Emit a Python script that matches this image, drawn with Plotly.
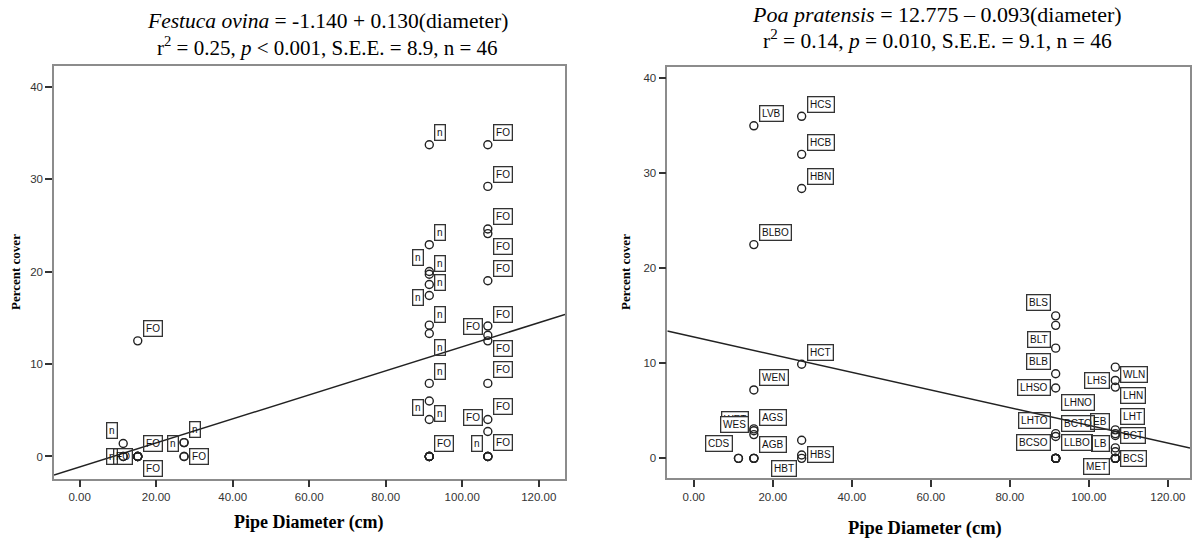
import plotly.graph_objects as go

W, H = 1193, 544

# ---------------- Data: Festuca ovina (left panel) ----------------
fo_x = [11.4, 11.4, 15.2, 15.2, 15.2, 15.2, 27.3, 27.3, 27.3,
        91.4, 91.4, 91.4, 91.4, 91.4, 91.4, 91.4, 91.4, 91.4, 91.4, 91.4, 91.4,
        106.7, 106.7, 106.7, 106.7, 106.7, 106.7, 106.7, 106.7, 106.7, 106.7, 106.7, 106.7, 106.7,
        91.4, 91.4, 91.4, 91.4, 91.4, 106.7, 106.7, 15.2, 15.2, 15.2, 11.4, 27.3]
fo_y = [1.4, 0, 12.5, 0, 0, 0, 1.5, 1.5, 0,
        33.7, 22.9, 20.0, 19.7, 18.6, 17.4, 14.2, 13.3, 7.9, 6.0, 4.0, 0,
        33.7, 29.2, 24.6, 24.1, 19.0, 14.1, 13.1, 12.5, 7.9, 4.0, 2.7, 0, 0,
        0, 0, 0, 0, 0, 0, 0, 0, 0, 0, 0, 0]
fo_lab = ["n", "n", "FO", "FO", "FO", "FO", "n", "n", "FO",
          "n", "n", "n", "n", "n", "n", "n", "n", "n", "n", "n", "FO",
          "FO", "FO", "FO", "FO", "FO", "FO", "FO", "FO", "FO", "FO", "FO", "n", "FO",
          "", "", "", "", "", "", "", "", "", "", "", ""]
fo_intercept, fo_slope = -1.140, 0.130

# ---------------- Data: Poa pratensis (right panel) ----------------
pp_x = [11.3, 15.2, 15.2, 15.2, 15.2, 15.2, 15.2, 15.2,
        27.3, 27.3, 27.3, 27.3, 27.3, 27.3,
        91.6, 91.6, 91.6, 91.6, 91.6, 91.6, 91.6, 91.6, 91.6,
        106.7, 106.7, 106.7, 106.7, 106.7, 106.7, 106.7, 106.7, 106.7,
        91.6, 91.6, 91.6, 91.6, 91.6, 91.6, 106.7, 106.7, 106.7, 106.7, 15.2, 15.2, 11.3, 27.3]
pp_y = [0, 35.0, 22.5, 7.2, 3.1, 2.5, 2.9, 0,
        36.0, 32.0, 28.4, 9.9, 1.9, 0.35,
        15.0, 14.0, 11.6, 8.9, 7.4, 2.6, 2.3, 0, 0,
        9.6, 8.2, 7.5, 3.0, 2.6, 2.4, 1.1, 0.7, 0,
        0, 0, 0, 0, 0, 0, 0, 0, 0, 0, 0, 0, 0, 0]
pp_lab = ["CDS", "LVB", "BLBO", "WEN", "AGS", "WET", "WES", "AGB",
          "HCS", "HCB", "HBN", "HCT", "HBS", "HBT",
          "BLS", "BLT", "BLB", "LHSO", "LHNO", "LHTO", "BCTO", "BCSO", "LLBO",
          "WLN", "LHS", "LHN", "LHT", "EB", "BCT", "LB", "BCS", "MET",
          "", "", "", "", "", "", "", "", "", "", "", "", "", ""]
pp_intercept, pp_slope = 12.775, -0.093

x_ticks = [0, 20, 40, 60, 80, 100, 120]
y_ticks = [0, 10, 20, 30, 40]

# ---------------- Label placement (style: side, vertical pixel offset, fill) ----------------
fo_side = ["L", "L", "R", "L", "R", "R", "R", "L", "R",
           "R", "R", "L", "R", "R", "L", "R", "R", "R", "L", "R", "R",
           "R", "R", "R", "R", "R", "R", "L", "R", "R", "R", "L", "L", "R"] + ["R"] * 12
fo_dy = [-13, 0, -12, 0, -13, 12, -13, 1, 0,
         -12, -12, -14, -11, -2, 2, -11, 14, -12, 7, -6, -13,
         -12, -12, -12, 13, -12, -12, -9, 8, -14, -13, -14, -13, -14] + [0] * 12
fo_fill = [False] * 46
pp_side = ["L", "R", "R", "R", "R", "L", "L", "R",
           "R", "R", "R", "R", "R", "L",
           "L", "L", "L", "L", "R", "L", "R", "L", "R",
           "R", "L", "R", "R", "L", "R", "L", "R", "L"] + ["R"] * 14
pp_dy = [-15, -12, -12, -12, -11, -15, -6, -14,
         -12, -12, -12, -12, 14, 13,
         -13, 14, 13, 14, 14, -13, -13, -16, -16,
         7, 0, 8, -13, -12, 0, -4, 7, 8] + [0] * 14
pp_fill = [False] * 6 + [True] + [False] * 39

# ---------------- Layout geometry (page pixels) ----------------
def px_x(px):
    return px / W

def px_y(py):
    return 1 - py / H

X1_DOM = [px_x(54), px_x(565)]
Y1_DOM = [px_y(478.5), px_y(65.7)]
X2_DOM = [px_x(667.3), px_x(1190)]
Y2_DOM = [px_y(478.3), px_y(67.3)]
X1_RANGE = [-6.69, 126.87]
Y1_RANGE = [-2.38, 42.25]
X2_RANGE = [-6.71, 125.6]
Y2_RANGE = [-2.1, 41.16]

INK = "#222222"
fig = go.Figure()

def add_panel(xs, ys, labs, sides, dys, fills, b0, b1, xr, xa, ya):
    fig.add_trace(go.Scatter(
        x=xs, y=ys, mode="markers", xaxis=xa, yaxis=ya,
        marker=dict(symbol="circle-open", size=8, color=INK, line=dict(width=1.4, color=INK)),
        showlegend=False, hoverinfo="skip"))
    lx = [xr[0], xr[1]]
    ly = [b0 + b1 * v for v in lx]
    fig.add_trace(go.Scatter(
        x=lx, y=ly, mode="lines", xaxis=xa, yaxis=ya,
        line=dict(color=INK, width=1.5), showlegend=False, hoverinfo="skip"))
    ref_x = "x" if xa == "x" else "x2"
    ref_y = "y" if ya == "y" else "y2"
    for xv, yv, t, s, d, f in zip(xs, ys, labs, sides, dys, fills):
        if not t:
            continue
        fig.add_annotation(
            x=xv, y=yv, xref=ref_x, yref=ref_y, text=t, showarrow=False,
            xanchor="left" if s == "R" else "right", yanchor="middle",
            xshift=5 if s == "R" else -5, yshift=-d,
            font=dict(family="Liberation Sans", size=10, color="#111111"),
            bgcolor="white" if f else "rgba(0,0,0,0)",
            bordercolor="#333333", borderwidth=1.3, borderpad=1.8)

add_panel(fo_x, fo_y, fo_lab, fo_side, fo_dy, fo_fill, fo_intercept, fo_slope, X1_RANGE, "x", "y")
add_panel(pp_x, pp_y, pp_lab, pp_side, pp_dy, pp_fill, pp_intercept, pp_slope, X2_RANGE, "x2", "y2")

axis_common = dict(showgrid=False, zeroline=False, showline=True, linecolor="#8c8c8c",
                   linewidth=1.5, mirror=True, ticks="outside", ticklen=7, tickwidth=1.5,
                   tickcolor="#333333",
                   tickfont=dict(family="Liberation Sans", size=11.5, color="#333333"))

fig.update_layout(
    width=W, height=H, margin=dict(l=0, r=0, t=0, b=0), autosize=False,
    paper_bgcolor="white", plot_bgcolor="white",
    xaxis=dict(domain=X1_DOM, range=X1_RANGE, tickvals=x_ticks, tickformat=".2f",
               anchor="y", **axis_common),
    yaxis=dict(domain=Y1_DOM, range=Y1_RANGE, tickvals=y_ticks, anchor="x", **axis_common),
    xaxis2=dict(domain=X2_DOM, range=X2_RANGE, tickvals=x_ticks, tickformat=".2f",
                anchor="y2", **axis_common),
    yaxis2=dict(domain=Y2_DOM, range=Y2_RANGE, tickvals=y_ticks, anchor="x2", **axis_common),
)

serif = "Liberation Serif"
def paper_text(x, y, text, size, angle=0):
    fig.add_annotation(x=px_x(x), y=px_y(y), xref="paper", yref="paper", text=text,
                       showarrow=False, xanchor="center", yanchor="middle", textangle=angle,
                       font=dict(family=serif, size=size, color="black"))

# Titles
paper_text(327, 21, "<i>Festuca ovina</i> = -1.140 + 0.130(diameter)", 21.5)
paper_text(327, 46, "r<sup>2</sup> = 0.25, <i>p</i> < 0.001, S.E.E. = 8.9, n = 46", 21)
paper_text(937, 14, "<i>Poa pratensis</i> = 12.775 \u2013 0.093(diameter)", 22)
paper_text(937, 40, "r<sup>2</sup> = 0.14, <i>p</i> = 0.010, S.E.E. = 9.1, n = 46", 21.5)

# Axis titles
paper_text(309, 522, "<b>Pipe Diameter (cm)</b>", 18)
paper_text(925, 528, "<b>Pipe Diameter (cm)</b>", 18.5)
paper_text(15, 272, "<b>Percent cover</b>", 13, angle=-90)
paper_text(625, 272, "<b>Percent cover</b>", 13, angle=-90)

fig.write_html("out.html", config={"displayModeBar": False},
               post_script="document.body.style.margin='0px';")
